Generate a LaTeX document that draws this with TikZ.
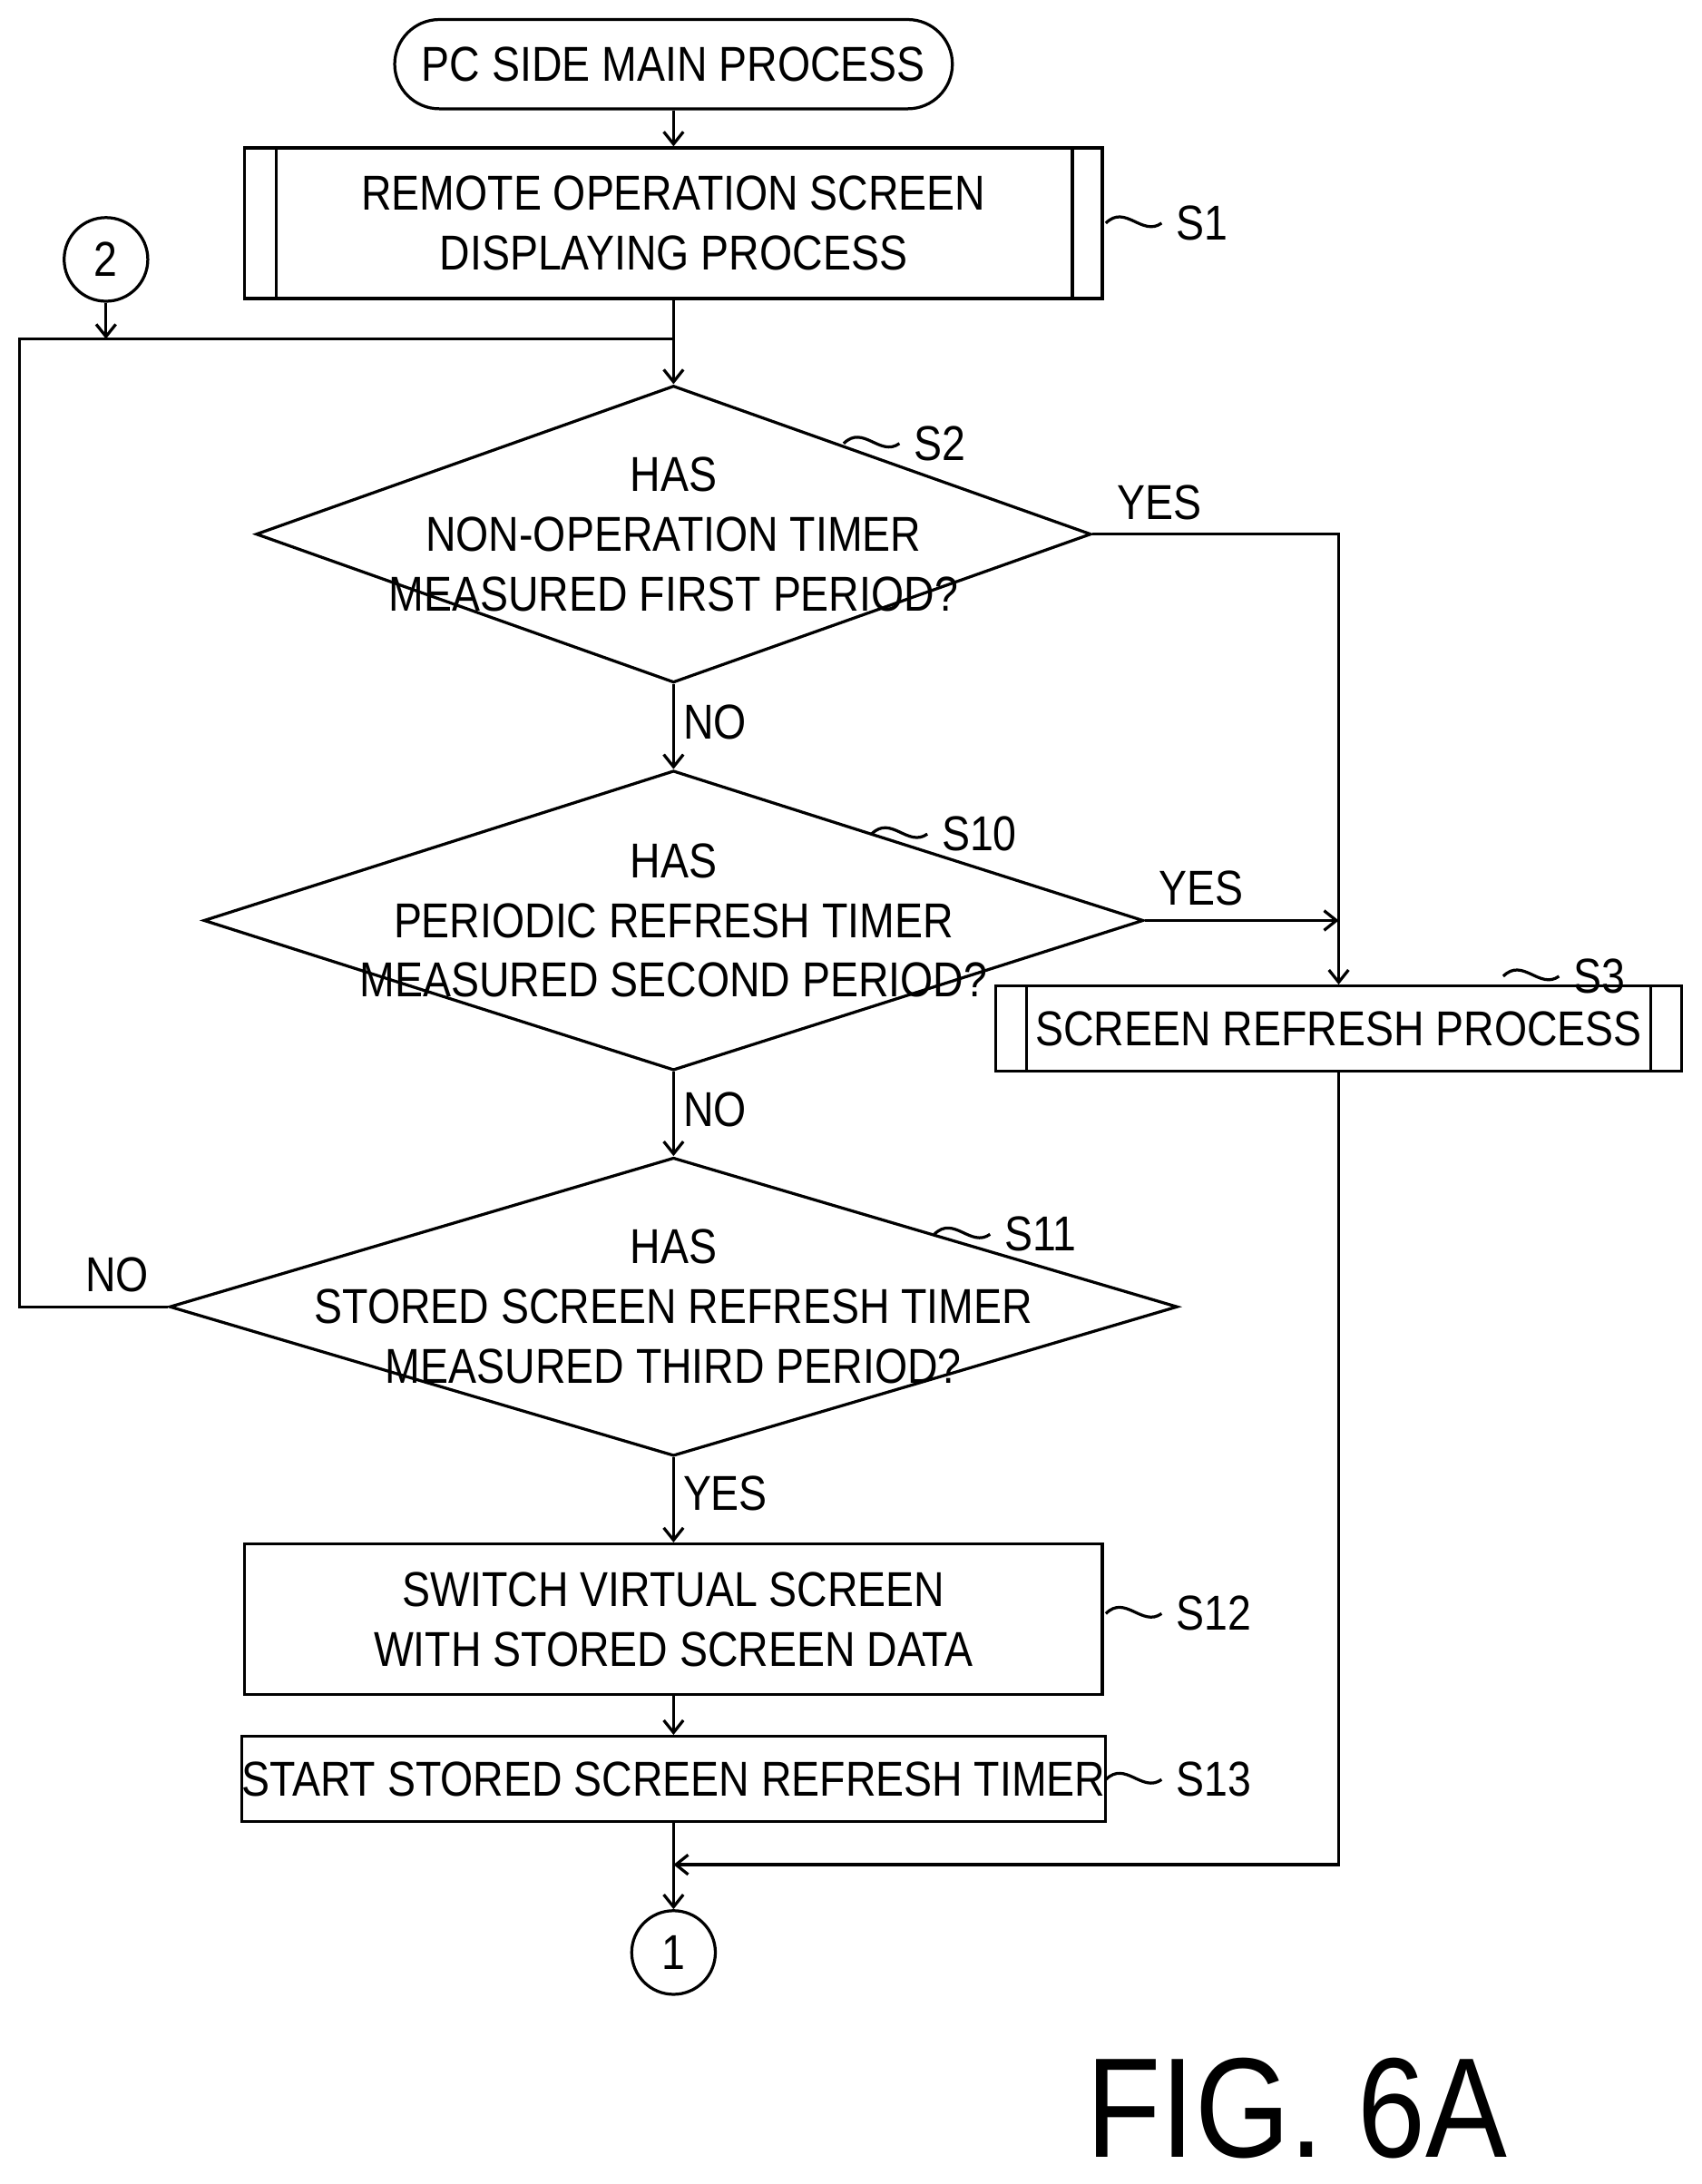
\documentclass[tikz,border=0pt]{standalone}
\usepackage{fontspec}
\setmainfont{Liberation Sans}[FakeStretch=0.86]
\usetikzlibrary{arrows.meta,shapes.geometric,positioning}
\tikzset{
	x=0.02cm, y=-0.02cm,
	every node/.style={font=\fontsize{20}{24.4}\selectfont},
	flow/.style={draw, line width=1.2pt, inner sep=0pt, align=center},
	proc/.style={flow, rectangle},
	sub/.style={flow, rectangle, double distance=0pt},
	dia/.style={flow, diamond, minimum width=#1},
	conn/.style={flow, circle, minimum size=1.2cm},
	line/.style={line width=1.2pt},
	arr/.style={line, -{Straight Barb[length=5pt,width=8pt]}}
}
\newcommand{\leader}[2]{\draw[line] (#1) .. controls ++(14,-14) and ++(-14,10) .. ++(40,0) node[right=2pt] {#2};}
\begin{document}
\begin{tikzpicture}
	\useasboundingbox (0,0) rectangle (1220,1566);
	% nodes
	\node[proc, rounded corners=0.64cm, minimum width=8cm, minimum height=1.28cm] (start) at (483,46) {PC SIDE MAIN PROCESS};
	\node[proc, minimum width=12.3cm, minimum height=2.16cm] (s1) at (483,160) {REMOTE OPERATION SCREEN\\DISPLAYING PROCESS};
	\draw[line] (198,106) -- (198,214) (769,106) -- (769,214);
	\node[conn] (c2) at (76,186) {2};
	\coordinate (merge) at (483,243);

	\node[dia, minimum width=11.98cm, minimum height=4.26cm] (d1) at (483,383) {};
	\node[align=center] at (d1) {HAS\\NON-OPERATION TIMER\\MEASURED FIRST PERIOD?};
	\node[dia, minimum width=13.48cm, minimum height=4.3cm] (d2) at (483,660) {};
	\node[align=center] at (d2) {HAS\\PERIODIC REFRESH TIMER\\MEASURED SECOND PERIOD?};
	\node[dia, minimum width=14.46cm, minimum height=4.28cm] (d3) at (483,937) {};
	\node[align=center] at (d3) {HAS\\STORED SCREEN REFRESH TIMER\\MEASURED THIRD PERIOD?};

	\node[proc, minimum width=9.84cm, minimum height=1.22cm] (s3) at (960,737.5) {SCREEN REFRESH PROCESS};
	\draw[line] (736,707) -- (736,768) (1184,707) -- (1184,768);
	\node[proc, minimum width=12.3cm, minimum height=2.16cm] (s12) at (483,1161) {SWITCH VIRTUAL SCREEN\\WITH STORED SCREEN DATA};
	\node[proc, minimum width=12.3cm, minimum height=1.22cm] (s13) at (483,1275.5) {START STORED SCREEN REFRESH TIMER};
	\node[conn] (c1) at (483,1400) {1};
	\node[font=\fontsize{58}{60}\selectfont] (fig) at (930,1512) {FIG. 6A};

	% connectors
	\draw[arr] (start) -- (s1);
	\draw[arr] (c2) -- (76,243);
	\draw[arr] (s1) -- (merge) -- (d1.north);
	\draw[arr] (d1.south) -- node[right, pos=0.45] {NO} (d2.north);
	\draw[arr] (d2.south) -- node[right, pos=0.45] {NO} (d3.north);
	\draw[arr] (d3.south) -- node[right, pos=0.42] {YES} (s12);
	\draw[arr] (s12) -- (s13);
	\draw[arr] (s13) -- (c1);
	\draw[arr] (d1.east) node[above right=2pt and 6pt] {YES} -| (s3.north);
	\draw[arr] (d2.east) node[above right=2pt and 2pt] {YES} -- (960,660);
	\draw[line] (d3.west) node[above left=2pt and 4pt] {NO} -- (14,937) |- (merge);
	\draw[arr] (s3.south) |- (483,1337);

	% step labels
	\leader{793,160}{S1}
	\leader{605,318}{S2}
	\leader{625,598}{S10}
	\leader{670,885}{S11}
	\leader{1078,700}{S3}
	\leader{793,1157}{S12}
	\leader{793,1276}{S13}
\end{tikzpicture}
\end{document}
